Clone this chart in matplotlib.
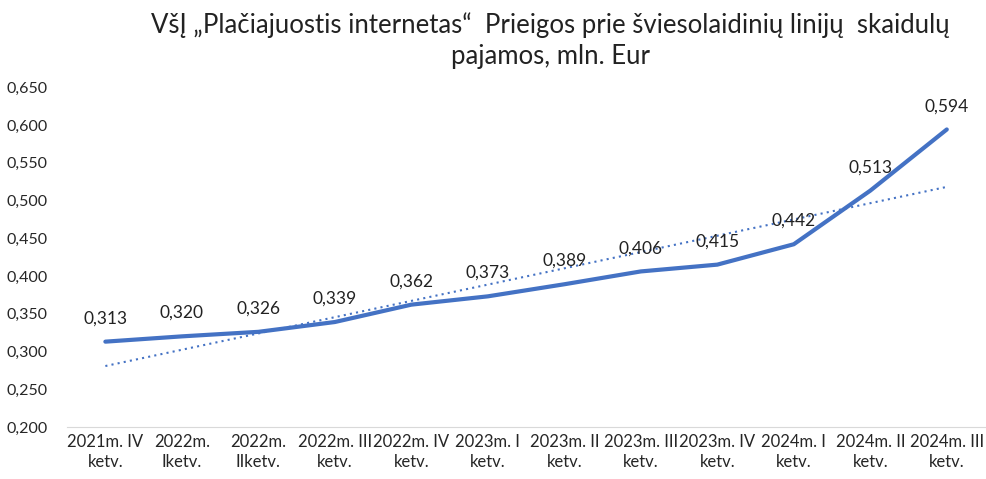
import numpy as np
import matplotlib.pyplot as plt

plt.rcParams['font.family'] = ['Lato', 'DejaVu Sans']

# duomenys
ketvirciai = ["2021m. IV\nketv.", "2022m.\nIketv.", "2022m.\nIIketv.", "2022m. III\nketv.",
              "2022m. IV\nketv.", "2023m. I\nketv.", "2023m. II\nketv.", "2023m. III\nketv.",
              "2023m. IV\nketv.", "2024m. I\nketv.", "2024m. II\nketv.", "2024m. III\nketv."]
pajamos = [0.313, 0.320, 0.326, 0.339, 0.362, 0.373, 0.389, 0.406, 0.415, 0.442, 0.513, 0.594]

x = np.arange(len(pajamos))
# tiesinė tendencija
k, b = np.polyfit(x, pajamos, 1)
trend = k * x + b

fig = plt.figure(figsize=(9.87, 4.79), dpi=100)
ax = fig.add_axes([0.068, 0.1086, 0.93, 0.7094])

ax.plot(x, pajamos, color='#4472C4', linewidth=3, solid_capstyle='round', zorder=3)
ax.plot(x, trend, color='#4472C4', linewidth=1.5, linestyle=(0, (1, 2)), zorder=2)

for xi, v in zip(x, pajamos):
    ax.annotate(f"{v:.3f}".replace('.', ','), (xi, v), xytext=(0, 11),
                textcoords='offset points', ha='center', va='bottom', fontsize=12.5, color='#222222')

ax.set_xlim(-0.5, len(pajamos) - 0.5)
ax.set_ylim(0.2, 0.65)
ax.set_yticks(np.arange(0.2, 0.651, 0.05))
ax.set_yticklabels([f"{t:.3f}".replace('.', ',') for t in np.arange(0.2, 0.651, 0.05)])
ax.set_xticks(x)
ax.set_xticklabels(ketvirciai, fontsize=12, linespacing=1.35)

for s in ['top', 'right', 'left']:
    ax.spines[s].set_visible(False)
ax.spines['bottom'].set_color('#D9D9D9')
ax.tick_params(axis='both', length=0, colors='#262626')
ax.tick_params(axis='y', labelsize=11.5, pad=14)
ax.tick_params(axis='x', pad=5)

fig.text(0.558, 0.975, "VšĮ „Plačiajuostis internetas“  Prieigos prie šviesolaidinių linijų  skaidulų\npajamos, mln. Eur",
         ha='center', va='top', fontsize=18.5, color='#222222', linespacing=1.32)

fig.savefig('out.png', dpi=100)
